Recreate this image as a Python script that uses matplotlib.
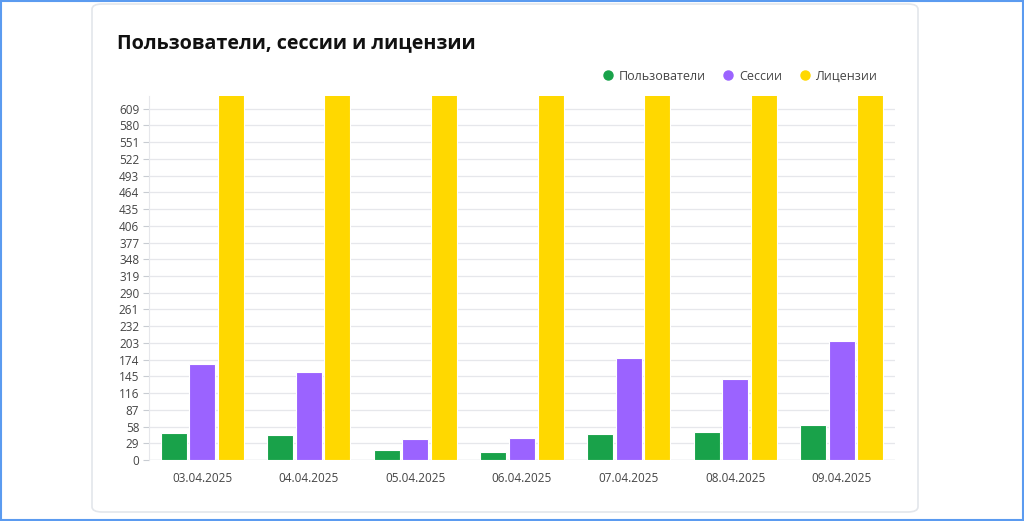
import matplotlib.pyplot as plt
import numpy as np
from matplotlib.patches import FancyBboxPatch, Rectangle
from matplotlib.lines import Line2D

plt.rcParams['font.family'] = ['Open Sans', 'DejaVu Sans']

dates = ['03.04.2025', '04.04.2025', '05.04.2025', '06.04.2025',
         '07.04.2025', '08.04.2025', '09.04.2025']
users = [47, 43, 17, 14, 45, 49, 60]
sessions = [167, 153, 36, 39, 177, 141, 207]
licenses = [640, 640, 640, 640, 640, 640, 640]
series_names = ['Пользователи', 'Сессии', 'Лицензии']
colors = ['#19a24a', '#9b63ff', '#ffd800']
yticks = list(range(0, 610, 29))

fig = plt.figure(figsize=(10.24, 5.21), dpi=100)

# outer frame and card (behind the axes)
fig.patches.append(Rectangle((0.001, 0.002), 0.998, 0.996, transform=fig.transFigure,
                             fill=False, edgecolor='#5b9bf0', linewidth=1.5, zorder=-2))
fig.patches.append(FancyBboxPatch((92 / 1024, 9 / 521), 826 / 1024, 508 / 521,
                                  boxstyle='round,pad=0,rounding_size=0.01',
                                  transform=fig.transFigure, facecolor='white',
                                  edgecolor='#e3e6eb', linewidth=1.2, zorder=-1))

ax = fig.add_axes([149 / 1024, 61 / 521, 746 / 1024, 364 / 521])
ax.set_facecolor('none')

x = np.arange(len(dates))
w = 0.245
off = 0.268
for i, vals in enumerate([users, sessions, licenses]):
    ax.bar(x + (i - 1) * off, vals, width=w, color=colors[i], edgecolor='white',
           linewidth=0.8, zorder=3)

ax.set_xlim(-0.5, len(dates) - 0.5)
ax.set_ylim(0, 631)
ax.set_yticks(yticks)
ax.set_xticks(x)
ax.set_xticklabels(dates)
ax.grid(axis='y', color='#e6e7eb', linewidth=0.9, zorder=0)
for s in ['top', 'right', 'bottom']:
    ax.spines[s].set_visible(False)
ax.spines['left'].set_color('#e6e7eb')
ax.tick_params(axis='y', length=4, color='#c8ccd2', labelsize=8.5, labelcolor='#444444', pad=3)
ax.tick_params(axis='x', length=0, labelsize=8.5, labelcolor='#444444', pad=9)
ax.axhline(0, color='#e0e2e6', linewidth=1, zorder=2)

fig.text(117 / 1024, 1 - 43 / 521, 'Пользователи, сессии и лицензии', fontsize=14.2,
         fontweight='bold', color='#111111', va='center', ha='left')

handles = [Line2D([], [], marker='o', linestyle='none', markersize=6.5,
                  markerfacecolor=c, markeredgecolor=c) for c in colors]
leg = fig.legend(handles, series_names, loc='center right', ncol=3,
                 bbox_to_anchor=(882 / 1024, 1 - 76 / 521), frameon=False,
                 fontsize=9, handletextpad=0.35, columnspacing=1.3,
                 handlelength=1.0, borderaxespad=0)
for t in leg.get_texts():
    t.set_color('#444444')

fig.savefig('out.png', dpi=100)
